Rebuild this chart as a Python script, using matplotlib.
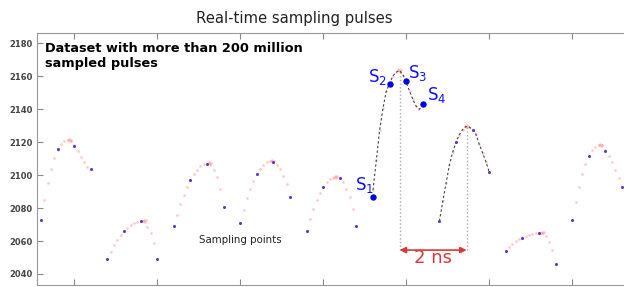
import numpy as np
import matplotlib
matplotlib.use('Agg')
import matplotlib.pyplot as plt

# pulse start times (ns); samples every 0.5 ns, four per pulse
pulse_start = [0, 2, 4, 6, 8, 10, 12, 14, 16]
sample_offsets = [0.0, 0.5, 1.0, 1.5]

# real-time samples (blue), one row per pulse
samples = [
    [2072.9, 2115.8, 2117.8, 2103.8],
    [2048.9, 2066.0, 2072.1, 2048.9],
    [2068.9, 2096.8, 2106.9, 2080.8],
    [2070.9, 2100.6, 2107.9, 2086.9],
    [2066.1, 2092.9, 2098.0, 2068.9],
    [2086.5, 2155.2, 2157.2, 2143.2],
    [2072.1, 2120.0, 2127.7, 2102.0],
    [2053.9, 2062.0, 2065.0, 2046.1],
    [2072.9, 2111.9, 2114.7, 2092.7],
]

# equivalent-time dense samples (pink), offsets 0.0 .. 1.4 ns
pink_offsets = [0.0, 0.1, 0.2, 0.3, 0.4, 0.5, 0.6, 0.7, 0.8, 0.9, 1.0, 1.1, 1.2, 1.3, 1.4]
pink = [
    [2073.0, 2084.7, 2095.3, 2103.8, 2110.7, 2115.5, 2119.2, 2121.0, 2121.3, 2121.0, 2118.5, 2114.7, 2111.3, 2107.7, 2105.0],
    [2049.0, 2053.3, 2057.4, 2060.6, 2063.4, 2066.0, 2067.9, 2069.5, 2070.7, 2071.7, 2072.1, 2072.2, 2068.7, 2064.8, 2058.6],
    [2069.0, 2075.8, 2082.4, 2087.9, 2092.5, 2096.8, 2100.4, 2103.0, 2105.3, 2106.5, 2107.0, 2107.0, 2103.0, 2098.6, 2091.3],
    [2071.0, 2078.8, 2085.9, 2091.7, 2096.5, 2100.6, 2103.8, 2106.2, 2107.7, 2108.3, 2108.2, 2106.2, 2103.6, 2099.6, 2094.4],
    [2066.0, 2073.1, 2079.4, 2084.7, 2089.1, 2092.9, 2095.6, 2097.4, 2098.4, 2098.8, 2098.3, 2095.6, 2091.5, 2086.5, 2079.2],
    [2091.0, 2109.0, 2127.5, 2140.5, 2151.0, 2155.5, 2160.3, 2162.5, 2163.5, 2161.0, 2156.5, 2151.0, 2146.0, 2141.8, 2140.0],
    [2072.1, 2084.0, 2095.0, 2106.0, 2114.0, 2120.0, 2124.5, 2127.7, 2129.5, 2129.2, 2127.7, 2124.8, 2118.8, 2113.5, 2108.2],
    [2054.0, 2056.4, 2058.0, 2059.8, 2061.0, 2062.0, 2063.0, 2063.8, 2064.4, 2064.8, 2065.0, 2064.8, 2063.2, 2059.6, 2054.5],
    [2073.0, 2083.4, 2092.9, 2100.6, 2106.8, 2111.9, 2115.3, 2117.2, 2118.0, 2118.0, 2115.0, 2111.7, 2107.7, 2103.2, 2098.0],
]

# overlapping pink points around each peak
peak_offset = [0.85, 1.12, 1.08, 0.97, 0.88, 0.80, 0.82, 1.10, 0.85]
peak_value = [2121.3, 2072.2, 2107.2, 2108.4, 2098.9, 2163.6, 2129.6, 2065.0, 2118.3]
cluster_dt = [-0.05, -0.02, 0.02, 0.05]
cluster_dv = [0.0, 0.6, -0.4, 0.3]

highlight = [5, 6]          # pulses drawn with the dashed curve
s_labels = ['1', '2', '3', '4']
y_ticks = [2040, 2060, 2080, 2100, 2120, 2140, 2160, 2180]
x_ticks = [1, 3.5, 6, 8.5, 11, 13.5, 16]

BLUE = '#5a36d8'
PINK = '#ff9a9a'
RED = '#d83a3a'

fig = plt.figure(figsize=(6.24, 2.87), dpi=100)
ax = fig.add_axes([37 / 624, 2 / 287, 590 / 624, 252 / 287])

for k, t0 in enumerate(pulse_start):
    pt = [t0 + o for o in pink_offsets]
    ax.plot(pt, pink[k], 'o', ms=1.9, color=PINK, alpha=0.55, mec='none', zorder=2)
    ct = [t0 + peak_offset[k] + d for d in cluster_dt]
    cv = [peak_value[k] + d for d in cluster_dv]
    ax.plot(ct, cv, 'o', ms=1.9, color=PINK, alpha=0.55, mec='none', zorder=2)

    st = [t0 + o for o in sample_offsets]
    if k in highlight:
        ax.plot(pt + [st[-1]], pink[k] + [samples[k][-1]], ls=(0, (2.2, 2.0)),
                color='#444444', lw=0.8, zorder=3)
    if k == 5:
        ax.plot(st, samples[k], 'o', ms=4.6, color='#0000ee', mec='none', zorder=4)
        offs = [(-18, 7), (-22, 2), (2, 3), (4, 4)]
        for i in range(4):
            ax.annotate(r'$\mathregular{S_%s}$' % s_labels[i], (st[i], samples[k][i]),
                        xytext=offs[i], textcoords='offset pixels', color='#1010ff',
                        fontsize=12, ha='left', va='baseline')
    else:
        ax.plot(st, samples[k], 'o', ms=2.2, color=BLUE, mec='none', zorder=4)

# 2 ns period marker between the two highlighted peaks
arrow_y = 2054.5
p6 = pulse_start[5] + peak_offset[5]
p7 = pulse_start[6] + peak_offset[6]
for t, v in [(p6, peak_value[5]), (p7, peak_value[6])]:
    ax.plot([t, t], [arrow_y, v], ls=':', color='#aaaaaa', lw=1, zorder=1)
ax.annotate('', xy=(p7, arrow_y), xytext=(p6, arrow_y),
            arrowprops=dict(arrowstyle='<|-|>', color=RED, lw=1.2,
                            mutation_scale=9, shrinkA=0, shrinkB=0))
ax.text((p6 + p7) / 2, arrow_y - 5, '2 ns', color=RED, fontsize=13,
        ha='center', va='center')

ax.text(6.0, 2060.5, 'Sampling points', fontsize=7.4, color='#222222',
        ha='center', va='center')

ax.set_xlim(-0.12, 17.65)
ax.set_ylim(2033.3, 2186.3)
ax.set_yticks(y_ticks)
ax.set_xticks(x_ticks)
ax.tick_params(direction='in', length=4, color='#888888', top=True, right=False,
               labelbottom=False, labelsize=6, labelcolor='#444444', pad=3)
for lbl in ax.get_yticklabels():
    lbl.set_fontweight('bold')
for s in ax.spines.values():
    s.set_color('#999999')
ax.spines['right'].set_visible(False)

fig.text(294 / 624, 1 - 23 / 287, 'Real-time sampling pulses', fontsize=10.7,
         color='#222222', ha='center', va='baseline')
fig.text(45 / 624, 1 - 42 / 287, 'Dataset with more than 200 million\nsampled pulses',
         fontsize=9.3, fontweight='bold', color='black', ha='left', va='top',
         linespacing=1.15)

fig.savefig('out.png', dpi=100)
